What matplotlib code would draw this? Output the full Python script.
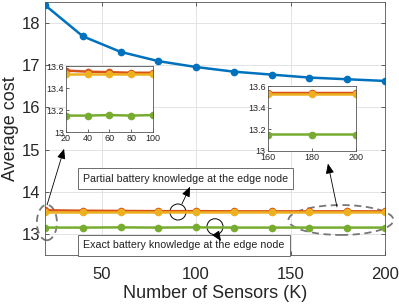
import matplotlib
matplotlib.use('Agg')
import matplotlib.pyplot as plt
from matplotlib.patches import Ellipse

plt.rcParams['font.family'] = ['Liberation Sans', 'DejaVu Sans']

# data
sensors = [20, 40, 60, 80, 100, 120, 140, 160, 180, 200]
cost_blue = [18.43, 17.69, 17.32, 17.10, 16.96, 16.85, 16.78, 16.71, 16.67, 16.63]
cost_red = [13.56, 13.55, 13.545, 13.54, 13.54, 13.535, 13.535, 13.535, 13.535, 13.535]
cost_yellow = [13.528, 13.528, 13.528, 13.528, 13.528, 13.528, 13.528, 13.528, 13.528, 13.528]
cost_green = [13.15, 13.15, 13.155, 13.15, 13.155, 13.15, 13.15, 13.15, 13.15, 13.15]

colors = ['#0072BD', '#D95319', '#EDB120', '#77AC30']
series = [cost_blue, cost_red, cost_yellow, cost_green]

fig = plt.figure(figsize=(3.99, 3.05), dpi=100)
ax = fig.add_axes([0.1128, 0.164, 0.852, 0.829])

for vals, c in zip(series, colors):
    ax.plot(sensors, vals, '-o', color=c, lw=1.8, ms=4.5)

ax.set_xlim(20, 200)
ax.set_ylim(12.5, 18.5)
ax.set_xticks([50, 100, 150, 200])
ax.set_yticks([13, 14, 15, 16, 17, 18])
ax.grid(True, color='#e3e3e3', lw=0.7)
ax.set_axisbelow(True)
ax.tick_params(direction='in', top=True, right=True, labelsize=12, colors='#262626',
               length=3, width=0.5)
ax.tick_params(axis='x', pad=8.5)
for s in ax.spines.values():
    s.set_color('#555555')
    s.set_linewidth(0.6)
ax.set_xlabel('Number of Sensors (K)', fontsize=13, color='#262626', labelpad=2)
ax.set_ylabel('Average cost', fontsize=13, color='#262626', labelpad=2)

# annotations
ax.text(40.1, 14.31, 'Partial battery knowledge at the edge node', fontsize=7.7,
        va='center', ha='left', color='#222222',
        bbox=dict(boxstyle='square,pad=0.5', facecolor='white', edgecolor='#555555', lw=0.6))
ax.text(40.1, 12.73, 'Exact battery knowledge at the edge node', fontsize=7.7,
        va='center', ha='left', color='#222222',
        bbox=dict(boxstyle='square,pad=0.5', facecolor='white', edgecolor='#555555', lw=0.6))

ax.add_patch(Ellipse((90.4, 13.52), 8.5, 0.38, fill=False, ec='black', lw=0.7))
ax.add_patch(Ellipse((110.0, 13.17), 8.5, 0.38, fill=False, ec='black', lw=0.7))
ax.add_patch(Ellipse((21.0, 13.27), 10.6, 0.84, fill=False, ec='#777777', lw=1.3,
                     ls=(0, (4, 2.5)), clip_on=False))
ax.add_patch(Ellipse((176.7, 13.33), 55.6, 0.71, fill=False, ec='#777777', lw=1.3,
                     ls=(0, (4, 2.5)), clip_on=False))

arrow = dict(arrowstyle='-|>,head_length=0.6,head_width=0.25', color='black', lw=0.6,
             shrinkA=0, shrinkB=0)
ax.annotate('', xy=(96.8, 14.12), xytext=(92.5, 13.71), arrowprops=arrow)
ax.annotate('', xy=(113.2, 12.83), xytext=(111.0, 12.98), arrowprops=arrow)
ax.annotate('', xy=(30.1, 15.02), xytext=(21.1, 13.69), arrowprops=arrow,
            annotation_clip=False)
ax.annotate('', xy=(169.8, 14.67), xytext=(174.6, 13.64), arrowprops=arrow)

# insets
def inset(rect, xlo, xhi, xticks):
    a = fig.add_axes(rect)
    for vals, c in zip(series, colors):
        a.plot(sensors, vals, '-o', color=c, lw=1.8, ms=4.5)
    a.set_xlim(xlo, xhi)
    a.set_ylim(13, 13.6)
    a.set_xticks(xticks)
    a.set_yticks([13, 13.2, 13.4, 13.6])
    a.set_yticklabels(['13', '13.2', '13.4', '13.6'])
    a.tick_params(direction='in', labelsize=6.5, colors='#262626', length=2, width=0.5, pad=1.5)
    for s in a.spines.values():
        s.set_color('#555555')
        s.set_linewidth(0.6)
    return a

inset([0.1654, 0.567, 0.218, 0.216], 20, 100, [20, 40, 60, 80, 100])
inset([0.671, 0.506, 0.2206, 0.212], 160, 200, [160, 180, 200])

fig.savefig('out.png', dpi=100)
